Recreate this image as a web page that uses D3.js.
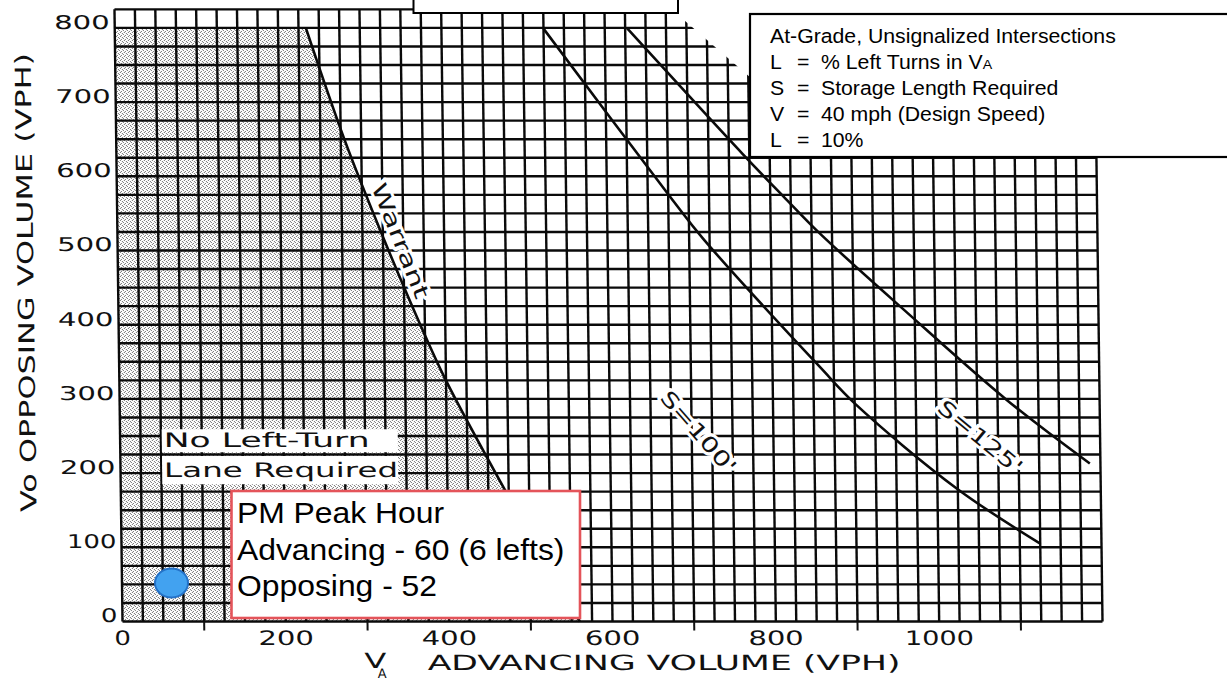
<!DOCTYPE html>
<html><head><meta charset="utf-8">
<script src="https://cdn.jsdelivr.net/npm/d3@7"></script>
<style>html,body{margin:0;padding:0;background:#fff;} svg{display:block;}</style>
</head><body>
<svg id="chart" width="1227" height="680"></svg>
<script>
// ---------------- data ----------------
const xTickLabels = [0, 200, 400, 600, 800, 1000];
const xMinorTicks = [100, 300, 500, 700, 900, 1100];
const yTickLabels = [0, 100, 200, 300, 400, 500, 600, 700, 800];
const gridStep = 25;
const xMax = 1200, yMax = 825;
// Warrant line (VA, VO)
const warrantX = [234, 280, 322, 369, 399, 471, 560];
const warrantY = [800, 648, 527, 401, 327, 176, 0];
// Storage length curves
const s100X = [525, 681, 717, 858, 901, 1024, 1125];
const s100Y = [799, 567, 516, 343, 293, 179, 105];
const s125X = [627, 767, 816, 860, 963, 1087, 1187];
const s125Y = [800, 630, 573, 523, 419, 298, 213];
const curveNames = ["Warrant", "S=100'", "S=125'"];
// observed point
const pointAdvancing = 60, pointOpposing = 52, pointLefts = 6;
const annotationLines = ["PM Peak Hour", `Advancing - ${pointAdvancing} (${pointLefts} lefts)`, `Opposing - ${pointOpposing}`];
const legendTitle = "At-Grade, Unsignalized Intersections";
const legendKeys = ["L", "S", "V", "L"];
const legendTexts = ["% Left Turns in V", "Storage Length Required", "40 mph (Design Speed)", "10%"];
const regionLabel = ["No Left-Turn", "Lane Required"];
const xTitle = "ADVANCING VOLUME (VPH)";
const yTitle = "Vo OPPOSING VOLUME (VPH)";

// ---------------- chart ----------------
const svg = d3.select("#chart");
const x = d3.scaleLinear().domain([0, 1200]).range([122.5, 1102.5]);
const y = d3.scaleLinear().domain([0, 800]).range([621.5, 27.9]);

const skew = 0.0131;
const skewDeg = Math.atan(skew) * 180 / Math.PI;

const defs = svg.append("defs");
const pat = defs.append("pattern").attr("id", "stip").attr("width", 4).attr("height", 4)
  .attr("patternUnits", "userSpaceOnUse").attr("patternTransform", `skewX(${-skewDeg})`);
[[0,0],[2,1],[1,3],[3,2]].forEach(p => pat.append("rect").attr("x", p[0]).attr("y", p[1])
  .attr("width", 1).attr("height", 1).attr("fill", "#6e6e6e"));

const scan = svg.append("g")
  .attr("transform", `translate(0,${y(0)}) skewX(${skewDeg}) translate(0,${-y(0)})`);

const zip = (a, b) => a.map((v, i) => [v, b[i]]);
const line = d3.line().x(d => x(d[0])).y(d => y(d[1])).curve(d3.curveCatmullRom.alpha(0.5));
const warrantPts = zip(warrantX, warrantY);

// shaded "no left turn lane" region
scan.append("path")
  .attr("d", `M${x(0)},${y(0)}L${x(0)},${y(800)}` + line(warrantPts).replace(/^M/, "L") + "Z")
  .attr("fill", "url(#stip)");

// grid
const gxs = d3.range(0, xMax + 1, gridStep), gys = d3.range(0, yMax + 1, gridStep);
scan.append("g").selectAll("line").data(gxs).join("line")
  .attr("x1", d => x(d)).attr("x2", d => x(d)).attr("y1", y(0)).attr("y2", y(yMax))
  .attr("stroke", "#0a0a0a").attr("stroke-width", 2.4);
scan.append("g").selectAll("line").data(gys).join("line")
  .attr("x1", x(0)).attr("x2", x(xMax)).attr("y1", d => y(d)).attr("y2", d => y(d))
  .attr("stroke", "#0a0a0a").attr("stroke-width", d => d === 0 ? 2.7 : 2.4);

// minor ticks
scan.append("g").selectAll("line").data(xMinorTicks).join("line")
  .attr("x1", d => x(d)).attr("x2", d => x(d)).attr("y1", y(0)).attr("y2", y(0) + 9)
  .attr("stroke", "#111").attr("stroke-width", 2);

const scanFont = "DejaVu Sans";
const tickLen = s => s.length * 19.5 - 3 - 6 * (s.split("1").length - 1);
scan.append("g").selectAll("text").data(yTickLabels).join("text")
  .attr("x", x(0) - 5).attr("y", d => y(d) + 1)
  .attr("text-anchor", "end").attr("font-family", scanFont).attr("font-size", 19)
  .attr("textLength", d => tickLen(String(d))).attr("lengthAdjust", "spacingAndGlyphs")
  .attr("fill", "#111").text(d => d);
scan.append("g").selectAll("text").data(xTickLabels).join("text")
  .attr("x", d => x(d)).attr("y", 645)
  .attr("text-anchor", "middle").attr("font-family", scanFont).attr("font-size", 20)
  .attr("textLength", d => tickLen(String(d))).attr("lengthAdjust", "spacingAndGlyphs")
  .attr("fill", "#111").text(d => d);

// curves
[warrantPts, zip(s100X, s100Y), zip(s125X, s125Y)].forEach(pts => {
  scan.append("path").attr("d", line(pts)).attr("fill", "none")
    .attr("stroke", "#0a0a0a").attr("stroke-width", 2.6);
});

// curve labels
const labelPos = [
  {cx: 346, cy: 513, rot: 69, len: 122},
  {cx: 708, cy: 255, rot: 49, len: 102},
  {cx: 1053, cy: 248, rot: 40, len: 102}
];
curveNames.forEach((name, i) => {
  const p = labelPos[i];
  scan.append("text")
    .attr("transform", `translate(${x(p.cx)},${y(p.cy)}) rotate(${p.rot})`)
    .attr("text-anchor", "middle").attr("dominant-baseline", "central")
    .attr("font-family", scanFont).attr("font-size", 21)
    .attr("textLength", p.len).attr("lengthAdjust", "spacingAndGlyphs")
    .attr("fill", "#111").attr("stroke", "#fff").attr("stroke-width", 6)
    .attr("stroke-linejoin", "round").attr("paint-order", "stroke")
    .text(name);
});

// region label
scan.append("rect").attr("x", x(51)).attr("y", y(259)).attr("width", x(340) - x(51))
  .attr("height", y(228) - y(259)).attr("fill", "#fff");
scan.append("rect").attr("x", x(51)).attr("y", y(223)).attr("width", x(340) - x(51))
  .attr("height", y(185) - y(223)).attr("fill", "#fff");
scan.append("text").attr("x", 166).attr("y", 447).attr("font-family", scanFont).attr("font-size", 20)
  .attr("textLength", 206).attr("lengthAdjust", "spacingAndGlyphs").attr("fill", "#111").text(regionLabel[0]);
scan.append("text").attr("x", 166).attr("y", 477).attr("font-family", scanFont).attr("font-size", 20)
  .attr("textLength", 234).attr("lengthAdjust", "spacingAndGlyphs").attr("fill", "#111").text(regionLabel[1]);

// axis titles
scan.append("text").attr("x", 364).attr("y", 668).attr("font-family", scanFont).attr("font-size", 21)
  .attr("textLength", 22).attr("lengthAdjust", "spacingAndGlyphs").attr("fill", "#111").text("V");
scan.append("text").attr("x", 377).attr("y", 678).attr("font-family", scanFont).attr("font-size", 13)
  .attr("fill", "#111").text("A");
scan.append("text").attr("x", 427).attr("y", 670).attr("font-family", scanFont).attr("font-size", 21)
  .attr("textLength", 473).attr("lengthAdjust", "spacingAndGlyphs").attr("fill", "#111").text(xTitle);
scan.append("text").attr("transform", "translate(30.5,282.5) rotate(-90)")
  .attr("text-anchor", "middle").attr("dominant-baseline", "central")
  .attr("font-family", scanFont).attr("font-size", 22)
  .attr("textLength", 459).attr("lengthAdjust", "spacingAndGlyphs").attr("fill", "#111").text(yTitle);

// ---------------- overlays ----------------
// cropped top-right corner of scan
svg.append("polygon").attr("points", "677,-2 1230,-2 1230,14 751,14 751,78 677,14").attr("fill", "#fff");
// blank top box
svg.append("rect").attr("x", 413.5).attr("y", -5).attr("width", 264.5).attr("height", 18)
  .attr("fill", "#fff").attr("stroke", "#000").attr("stroke-width", 2);

// legend box
svg.append("rect").attr("x", 750).attr("y", 14).attr("width", 490).attr("height", 143)
  .attr("fill", "#fff").attr("stroke", "#000").attr("stroke-width", 2.2);
const lg = svg.append("g").attr("transform", "translate(770,0) scale(1.09,1)")
  .attr("font-family", "Liberation Sans, Arial, sans-serif").attr("font-size", 19.5).attr("fill", "#000");
lg.append("text").attr("x", 0).attr("y", 43.5).text(legendTitle);
legendKeys.forEach((k, i) => {
  const by = 43.5 + (i + 1) * 25.75;
  lg.append("text").attr("x", 0).attr("y", by).text(k);
  lg.append("text").attr("x", 24.8).attr("y", by).text("=");
  const t = lg.append("text").attr("x", 46.8).attr("y", by).text(legendTexts[i]);
  if (i === 0) t.append("tspan").attr("font-size", 13).text("A");
});

// annotation box
svg.append("rect").attr("x", 231.5).attr("y", 491).attr("width", 348.5).attr("height", 127)
  .attr("fill", "#fff").attr("stroke", "#e4545a").attr("stroke-width", 2.6);
const an = svg.append("g").attr("transform", "translate(237,0) scale(1.08,1)")
  .attr("font-family", "Liberation Sans, Arial, sans-serif").attr("font-size", 29.5).attr("fill", "#000");
[523, 560, 596].forEach((by, i) => an.append("text").attr("x", 0).attr("y", by).text(annotationLines[i]));

// observed point
svg.append("ellipse").attr("cx", x(pointAdvancing)).attr("cy", y(pointOpposing))
  .attr("rx", 16.5).attr("ry", 14.5).attr("fill", "#42a2f0").attr("stroke", "#2472c8").attr("stroke-width", 2);
</script>
</body></html>
